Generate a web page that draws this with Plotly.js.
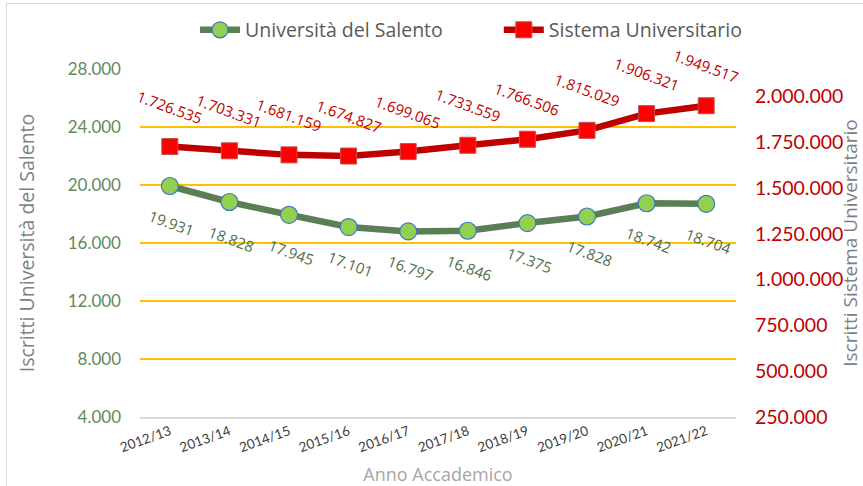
<!DOCTYPE html>
<html><head><meta charset="utf-8">
<script src="https://cdn.plot.ly/plotly-3.0.1.min.js"></script>
<style>
html,body{margin:0;padding:0;background:#fff;overflow:hidden;}
#frame{position:absolute;left:6px;top:3px;width:880px;height:500px;border:1px solid #d9d9d9;}
#chart{position:absolute;left:0;top:0;width:863px;height:486px;}
</style></head>
<body>
<div id="frame"></div>
<div id="chart"></div>
<script>
const years = ["2012/13","2013/14","2014/15","2015/16","2016/17","2017/18","2018/19","2019/20","2020/21","2021/22"];
const salento = [19931,18828,17945,17101,16797,16846,17375,17828,18742,18704];
const sistema = [1726535,1703331,1681159,1674827,1699065,1733559,1766506,1815029,1906321,1949517];
const leftTicks = [4000,8000,12000,16000,20000,24000,28000];
const rightTicks = [250000,500000,750000,1000000,1250000,1500000,1750000,2000000];

const fmt = v => v.toString().replace(/\B(?=(\d{3})+(?!\d))/g, ".");
const FONT = "Lato, 'Noto Sans', sans-serif";
const OS = "'Open Sans', 'Noto Sans', sans-serif";

const traces = [
  {x: years, y: salento, name: "Università del Salento", type: "scatter", mode: "lines+markers",
   yaxis: "y", legend: "legend", line: {color: "#5a7f55", width: 6.5},
   marker: {symbol: "circle", size: 17, color: "#92d050", line: {color: "#4472c4", width: 1.2}}},
  {x: years, y: sistema, name: "Sistema Universitario", type: "scatter", mode: "lines+markers",
   yaxis: "y2", legend: "legend2", line: {color: "#c00000", width: 6.5},
   marker: {symbol: "square", size: 16, color: "#ff0000", line: {color: "#c0504d", width: 1}}}
];

const annotations = [];
years.forEach((yr, i) => {
  annotations.push({x: yr, y: salento[i], xref: "x", yref: "y", text: fmt(salento[i]),
    showarrow: true, arrowcolor: "rgba(0,0,0,0)", ax: 2, ay: 37, textangle: 20,
    font: {family: OS, size: 15, color: "#4f7049"}});
  annotations.push({x: yr, y: sistema[i], xref: "x", yref: "y2", text: fmt(sistema[i]),
    showarrow: true, arrowcolor: "rgba(0,0,0,0)", ax: 0, ay: -40, textangle: 20,
    font: {family: OS, size: 15, color: "#c00000"}});
});

const legendBase = {orientation: "h", xref: "container", yref: "container", y: 0.938,
  xanchor: "left", yanchor: "middle", bgcolor: "rgba(0,0,0,0)", itemwidth: 40,
  font: {family: OS, size: 19.5, color: "#595959"}};

const layout = {
  width: 863, height: 486,
  margin: {l: 140, r: 127, t: 69, b: 69},
  paper_bgcolor: "rgba(0,0,0,0)", plot_bgcolor: "rgba(0,0,0,0)",
  separators: ",.",
  font: {family: FONT, color: "#595959"},
  showlegend: true,
  legend: Object.assign({}, legendBase, {x: 0.226}),
  legend2: Object.assign({}, legendBase, {x: 0.578}),
  xaxis: {type: "category", range: [-0.5, 9.5], automargin: false, showline: true, linecolor: "#d9d9d9", linewidth: 1.5,
    showgrid: false, ticks: "", tickangle: -20,
    tickfont: {family: FONT, size: 13.5, color: "#404040"},
    title: {text: "Anno Accademico", font: {family: OS, size: 18, color: "#a6a6a6"}, standoff: 14}},
  yaxis: {range: [4000, 28000], automargin: false, tickvals: leftTicks, ticktext: leftTicks.map(fmt),
    showgrid: true, gridcolor: "#ffc000", gridwidth: 1.2, zeroline: false, ticks: "",
    ticklabelstandoff: 18,
    tickfont: {family: FONT, size: 17, color: "#5f8a5c"},
    title: {text: "Iscritti Università del Salento", font: {family: OS, size: 19.5, color: "#7f7f7f"}, standoff: 27}},
  yaxis2: {overlaying: "y", side: "right", automargin: false, range: [250000, 2150000], tickvals: rightTicks,
    ticktext: rightTicks.map(fmt), showgrid: false, zeroline: false, ticks: "",
    ticklabelstandoff: 18,
    tickfont: {family: FONT, size: 19.5, color: "#c00000"},
    title: {text: "Iscritti Sistema Universitario", font: {family: OS, size: 19, color: "#7f7f7f"}, standoff: 9}},
  annotations: annotations
};

Plotly.newPlot("chart", traces, layout, {displayModeBar: false, staticPlot: true});
</script>
</body></html>
